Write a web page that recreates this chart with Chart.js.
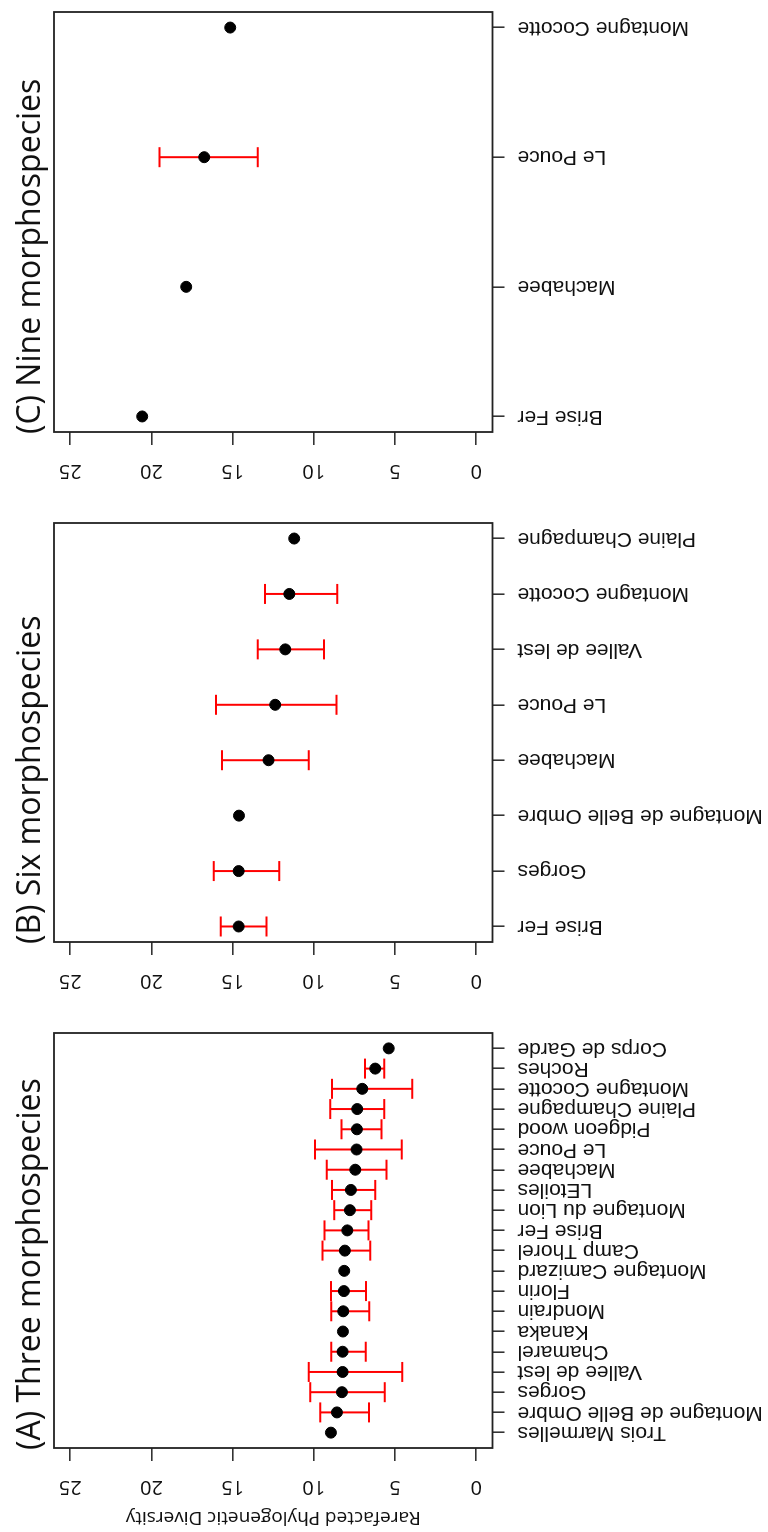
<!DOCTYPE html>
<html>
<head>
<meta charset="utf-8">
<script src="https://cdn.jsdelivr.net/npm/chart.js@4/dist/chart.umd.min.js"></script>
<style>
  html, body { margin: 0; padding: 0; background: #fff; overflow: hidden; }
  /* the figure is laid out as in the original (panels side by side) and then turned a quarter */
  #figure { position: absolute; left: 0; top: 0; width: 1532px; height: 768px;
            transform-origin: 0 0; transform: translate(0, 1532px) rotate(-90deg); }
  #figure canvas { position: absolute; top: 0; }
  .panel-title { position: absolute; top: 10px; font-family: 'Open Sans', sans-serif; font-size: 32px;
                 line-height: 36px; color: #111; white-space: nowrap; }
</style>
</head>
<body>
<div id="figure">
  <canvas id="panelA" width="511" height="768" style="left:0px"></canvas>
  <canvas id="panelB" width="510" height="768" style="left:511px"></canvas>
  <canvas id="panelC" width="511" height="768" style="left:1021px"></canvas>
  <div class="panel-title" style="left:82px">(A) Three morphospecies</div>
  <div class="panel-title" style="left:588px">(B) Six morphospecies</div>
  <div class="panel-title" style="left:1098px">(C) Nine morphospecies</div>
</div>
<script>
const sitesA = ['Trois Marmelles', 'Montagne de Belle Ombre', 'Gorges', 'Vallee de lest', 'Chamarel', 'Kanaka',
  'Mondrain', 'Florin', 'Montagne Camizard', 'Camp Thorel', 'Brise Fer', 'Montagne du Lion', 'LEtoiles',
  'Machabee', 'Le Pouce', 'Pidgeon wood', 'Plaine Champagne', 'Montagne Cocotte', 'Roches', 'Corps de Garde'];
const meanA  = [8.95, 8.58, 8.27, 8.23, 8.23, 8.21, 8.19, 8.15, 8.13, 8.09, 7.94, 7.78, 7.72, 7.45, 7.37, 7.35, 7.33, 7.02, 6.22, 5.39];
const lowerA = [null, 6.61, 5.64, 4.56, 6.81, null, 6.59, 6.79, null, 6.53, 6.63, 6.47, 6.22, 5.52, 4.59, 5.83, 5.66, 3.94, 5.66, null];
const upperA = [null, 9.61, 10.22, 10.32, 8.93, null, 8.93, 8.95, null, 9.46, 9.34, 8.74, 8.88, 9.21, 9.93, 8.29, 8.99, 8.89, 6.85, null];

const sitesB = ['Brise Fer', 'Gorges', 'Montagne de Belle Ombre', 'Machabee', 'Le Pouce', 'Vallee de lest',
  'Montagne Cocotte', 'Plaine Champagne'];
const meanB  = [14.63, 14.63, 14.61, 12.79, 12.38, 11.76, 11.51, 11.21];
const lowerB = [12.91, 12.13, null, 10.32, 8.60, 9.38, 8.56, null];
const upperB = [15.74, 16.17, null, 15.66, 16.03, 13.46, 13.01, null];

const sitesC = ['Brise Fer', 'Machabee', 'Le Pouce', 'Montagne Cocotte'];
const meanC  = [20.57, 17.86, 16.75, 15.15];
const lowerC = [null, null, 13.46, null];
const upperC = [null, null, 19.50, null];

const diversityTicks = [0, 5, 10, 15, 20, 25];
const yTitle = 'Rarefacted Phylogenetic Diversity';

const labelFont = "'Liberation Sans', Arial, sans-serif";
const numFont = "'Open Sans', sans-serif";

// box round the plot area, like R's box()
const plotBox = {
  id: 'plotBox',
  beforeDatasetsDraw(chart) {
    const {ctx, chartArea: a} = chart;
    ctx.save();
    ctx.strokeStyle = '#222';
    ctx.lineWidth = 1.8;
    ctx.strokeRect(a.left, a.top, a.right - a.left, a.bottom - a.top);
    ctx.restore();
  }
};

function makePanel(id, sites, mean, lower, upper, plotLeft, plotRight, showTitle) {
  const canvas = document.getElementById(id);
  const n = sites.length;
  const dots = sites.map((s, i) => ({x: i, y: mean[i]}));
  const caps = [];
  const stems = [];
  sites.forEach((s, i) => {
    if (lower[i] == null) return;
    caps.push({x: i, y: lower[i]}, {x: i, y: upper[i]});
    stems.push({x: i, y: lower[i]}, {x: i, y: upper[i]}, {x: i, y: null});
  });

  return new Chart(canvas, {
    type: 'scatter',
    data: {
      datasets: [
        {data: dots, pointRadius: 5.5, pointBackgroundColor: '#000', pointBorderColor: '#000', pointBorderWidth: 1, order: 0},
        {data: caps, pointStyle: 'line', pointRadius: 10, pointBorderColor: 'red', pointBorderWidth: 2, order: 1},
        {data: stems, showLine: true, spanGaps: false, borderColor: 'red', borderWidth: 2, pointRadius: 0, order: 2}
      ]
    },
    options: {
      responsive: false,
      animation: false,
      events: [],
      layout: {padding: {top: 54, left: 0, bottom: 0, right: canvas.width - plotRight}},
      plugins: {legend: {display: false}, tooltip: {enabled: false}, title: {display: false}},
      scales: {
        x: {
          type: 'linear', position: 'bottom', offset: false,
          min: -0.04 * (n - 1), max: 1.04 * (n - 1),
          afterBuildTicks: s => { s.ticks = sites.map((_, i) => ({value: i})); },
          afterFit: s => { s.height = 768 - 492.5; s.paddingLeft = 0; s.paddingRight = 0; },
          grid: {display: true, drawOnChartArea: false, tickLength: 12, color: '#333', lineWidth: 1.6, offset: false},
          border: {display: false},
          ticks: {
            autoSkip: false, minRotation: 90, maxRotation: 90, padding: 13, color: '#111',
            font: {family: labelFont, size: 21},
            callback: (v, i) => sites[i]
          }
        },
        y: {
          type: 'linear', position: 'left', min: -1, max: 26,
          afterBuildTicks: s => { s.ticks = diversityTicks.map(v => ({value: v})); },
          afterFit: s => { s.width = plotLeft; s.paddingTop = 0; s.paddingBottom = 0; },
          grid: {display: true, drawOnChartArea: false, tickLength: 13, color: '#333', lineWidth: 1.6},
          border: {display: false},
          ticks: {minRotation: 90, maxRotation: 90, crossAlign: 'center', padding: 14, color: '#111',
                  font: {family: numFont, size: 20}},
          title: {display: showTitle, text: yTitle, color: '#111', font: {family: numFont, size: 19},
                  padding: {top: 3, bottom: 0}}
        }
      }
    },
    plugins: [plotBox]
  });
}

makePanel('panelA', sitesA, meanA, lowerA, upperA, 84, 507, true);
makePanel('panelB', sitesB, meanB, lowerB, upperB, 79, 503, false);
makePanel('panelC', sitesC, meanC, lowerC, upperC, 79, 502, false);
</script>
</body>
</html>
